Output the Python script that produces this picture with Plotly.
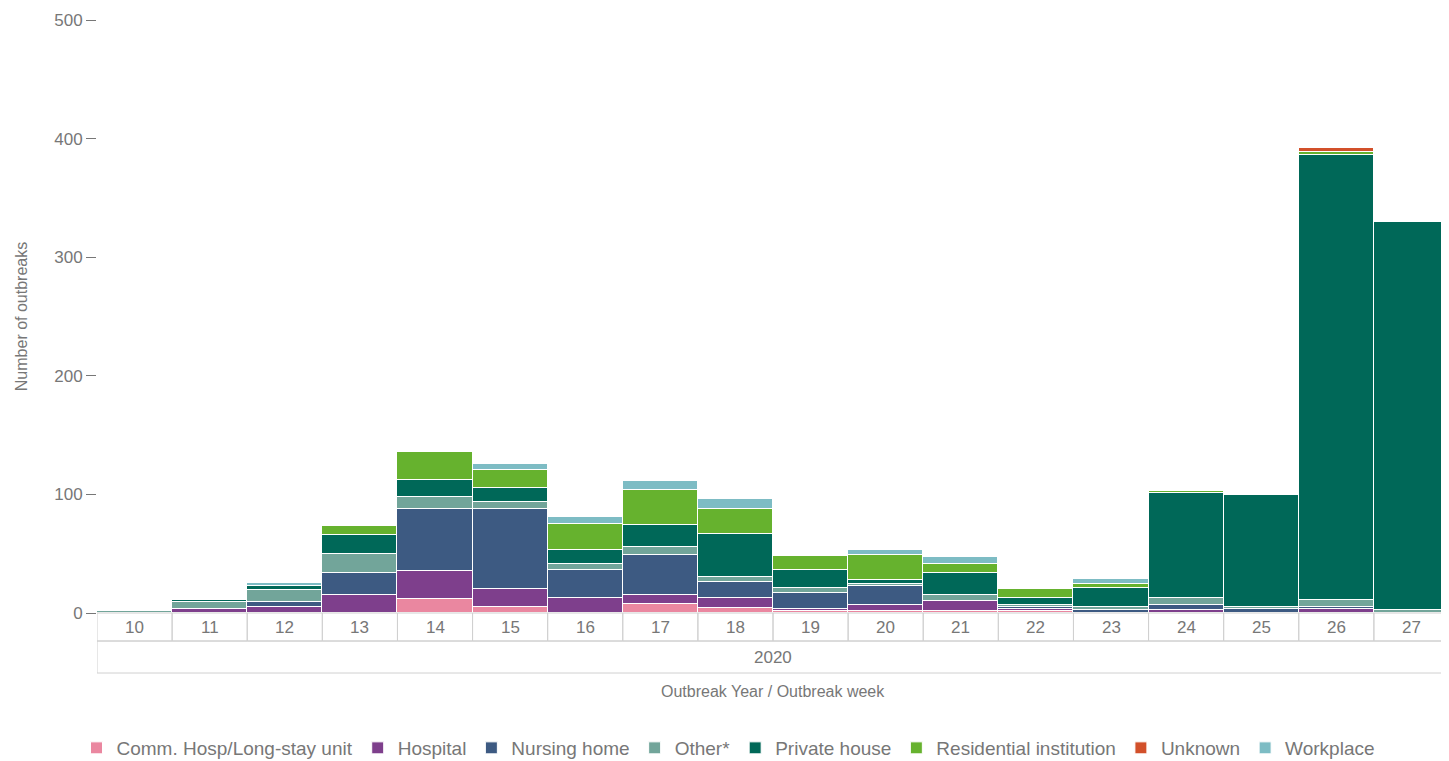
import plotly.graph_objects as go

weeks = ["10","11","12","13","14","15","16","17","18","19","20","21","22","23","24","25","26","27"]
year_label = "2020"
comm = [0,0,0,0,12,5,0,8,4.5,2,2,2,2,0,0,0,0,0]
hosp = [0,3,5,15,23,15,13,7,8,1,5,8,1,0,2.5,0,3.4,0]
nursing = [0,0,4,19,53,68,23,34,13.5,14,16,0,2,2.5,4.5,3.7,1.6,0]
other = [2,6,10,16,10,6,5,7,4,4,1.5,5,2,2.5,5.5,1.7,6,2.5]
private = [0,2,3.5,16,14,11,12,18.5,37,15.5,3,19,6,16.5,88.5,94.3,375,327]
resid = [0,0,0,7,24,15.6,22,29.5,21,11.5,21.6,7,7,3,2,0,2.5,0]
unknown = [0,0,0,0,0,0,0,0,0,0,0,0,0,0,0,0,3.5,0]
workplace = [0,1,2.5,0,1,5.4,6,7,8,0.5,4,6,0,4,1,0,0,0]

series = [
    ("Comm. Hosp/Long-stay unit", comm, "#EA87A0"),
    ("Hospital", hosp, "#7E3F8C"),
    ("Nursing home", nursing, "#3D5A82"),
    ("Other*", other, "#72A59A"),
    ("Private house", private, "#006858"),
    ("Residential institution", resid, "#66B22E"),
    ("Unknown", unknown, "#D2502A"),
    ("Workplace", workplace, "#7DBCC4"),
]

xs = list(range(len(weeks)))
fig = go.Figure()
for name, vals, col in series:
    fig.add_trace(go.Bar(x=xs, y=vals, name=name, marker=dict(color=col, line=dict(color="white", width=1))))

grey = "#777777"
line_c = "#d0d0d0"
h = 593.0
r1 = -28/h
r2 = -60/h
shapes = []
for i in xs:
    shapes.append(dict(type="rect", xref="x", yref="paper", x0=i-0.5, x1=i+0.5, y0=r1, y1=0, line=dict(color=line_c, width=1)))
shapes.append(dict(type="rect", xref="x", yref="paper", x0=-0.5, x1=len(weeks)-0.5, y0=r2, y1=r1, line=dict(color=line_c, width=1)))
ann = []
for i, w in enumerate(weeks):
    ann.append(dict(x=i, y=r1/2, xref="x", yref="paper", yanchor="middle", text=w, showarrow=False, font=dict(size=17, color=grey)))
ann.append(dict(x=(len(weeks)-1)/2, y=(r1+r2)/2, xref="x", yref="paper", yanchor="middle", text=year_label, showarrow=False, font=dict(size=17, color=grey)))
ann.append(dict(x=(len(weeks)-1)/2, y=-78/h, xref="x", yref="paper", yanchor="middle", text="Outbreak Year / Outbreak week", showarrow=False, font=dict(size=16, color=grey)))

fig.update_layout(
    width=1441, height=753, barmode="stack", bargap=0,
    plot_bgcolor="white", paper_bgcolor="white",
    margin=dict(l=89, r=0, t=12, b=148, autoexpand=False),
    font=dict(family="Liberation Sans, Arial", color=grey),
    xaxis=dict(range=[-0.5, len(weeks)-0.5], showticklabels=False, showgrid=False, zeroline=False, ticks="", automargin=False),
    yaxis=dict(range=[0, 500], tickvals=[0,100,200,300,400,500], showgrid=False, zeroline=False, automargin=False,
               ticks="outside", ticklen=10, tickcolor=grey, tickfont=dict(size=17, color=grey),
               title=dict(text="Number of outbreaks", font=dict(size=16, color=grey), standoff=22)),
    legend=dict(orientation="h", xref="container", x=0.5, xanchor="center", y=-135/h, yanchor="middle",
                font=dict(size=19, color=grey), traceorder="normal"),
    shapes=shapes, annotations=ann,
)
fig.write_html("out.html")
